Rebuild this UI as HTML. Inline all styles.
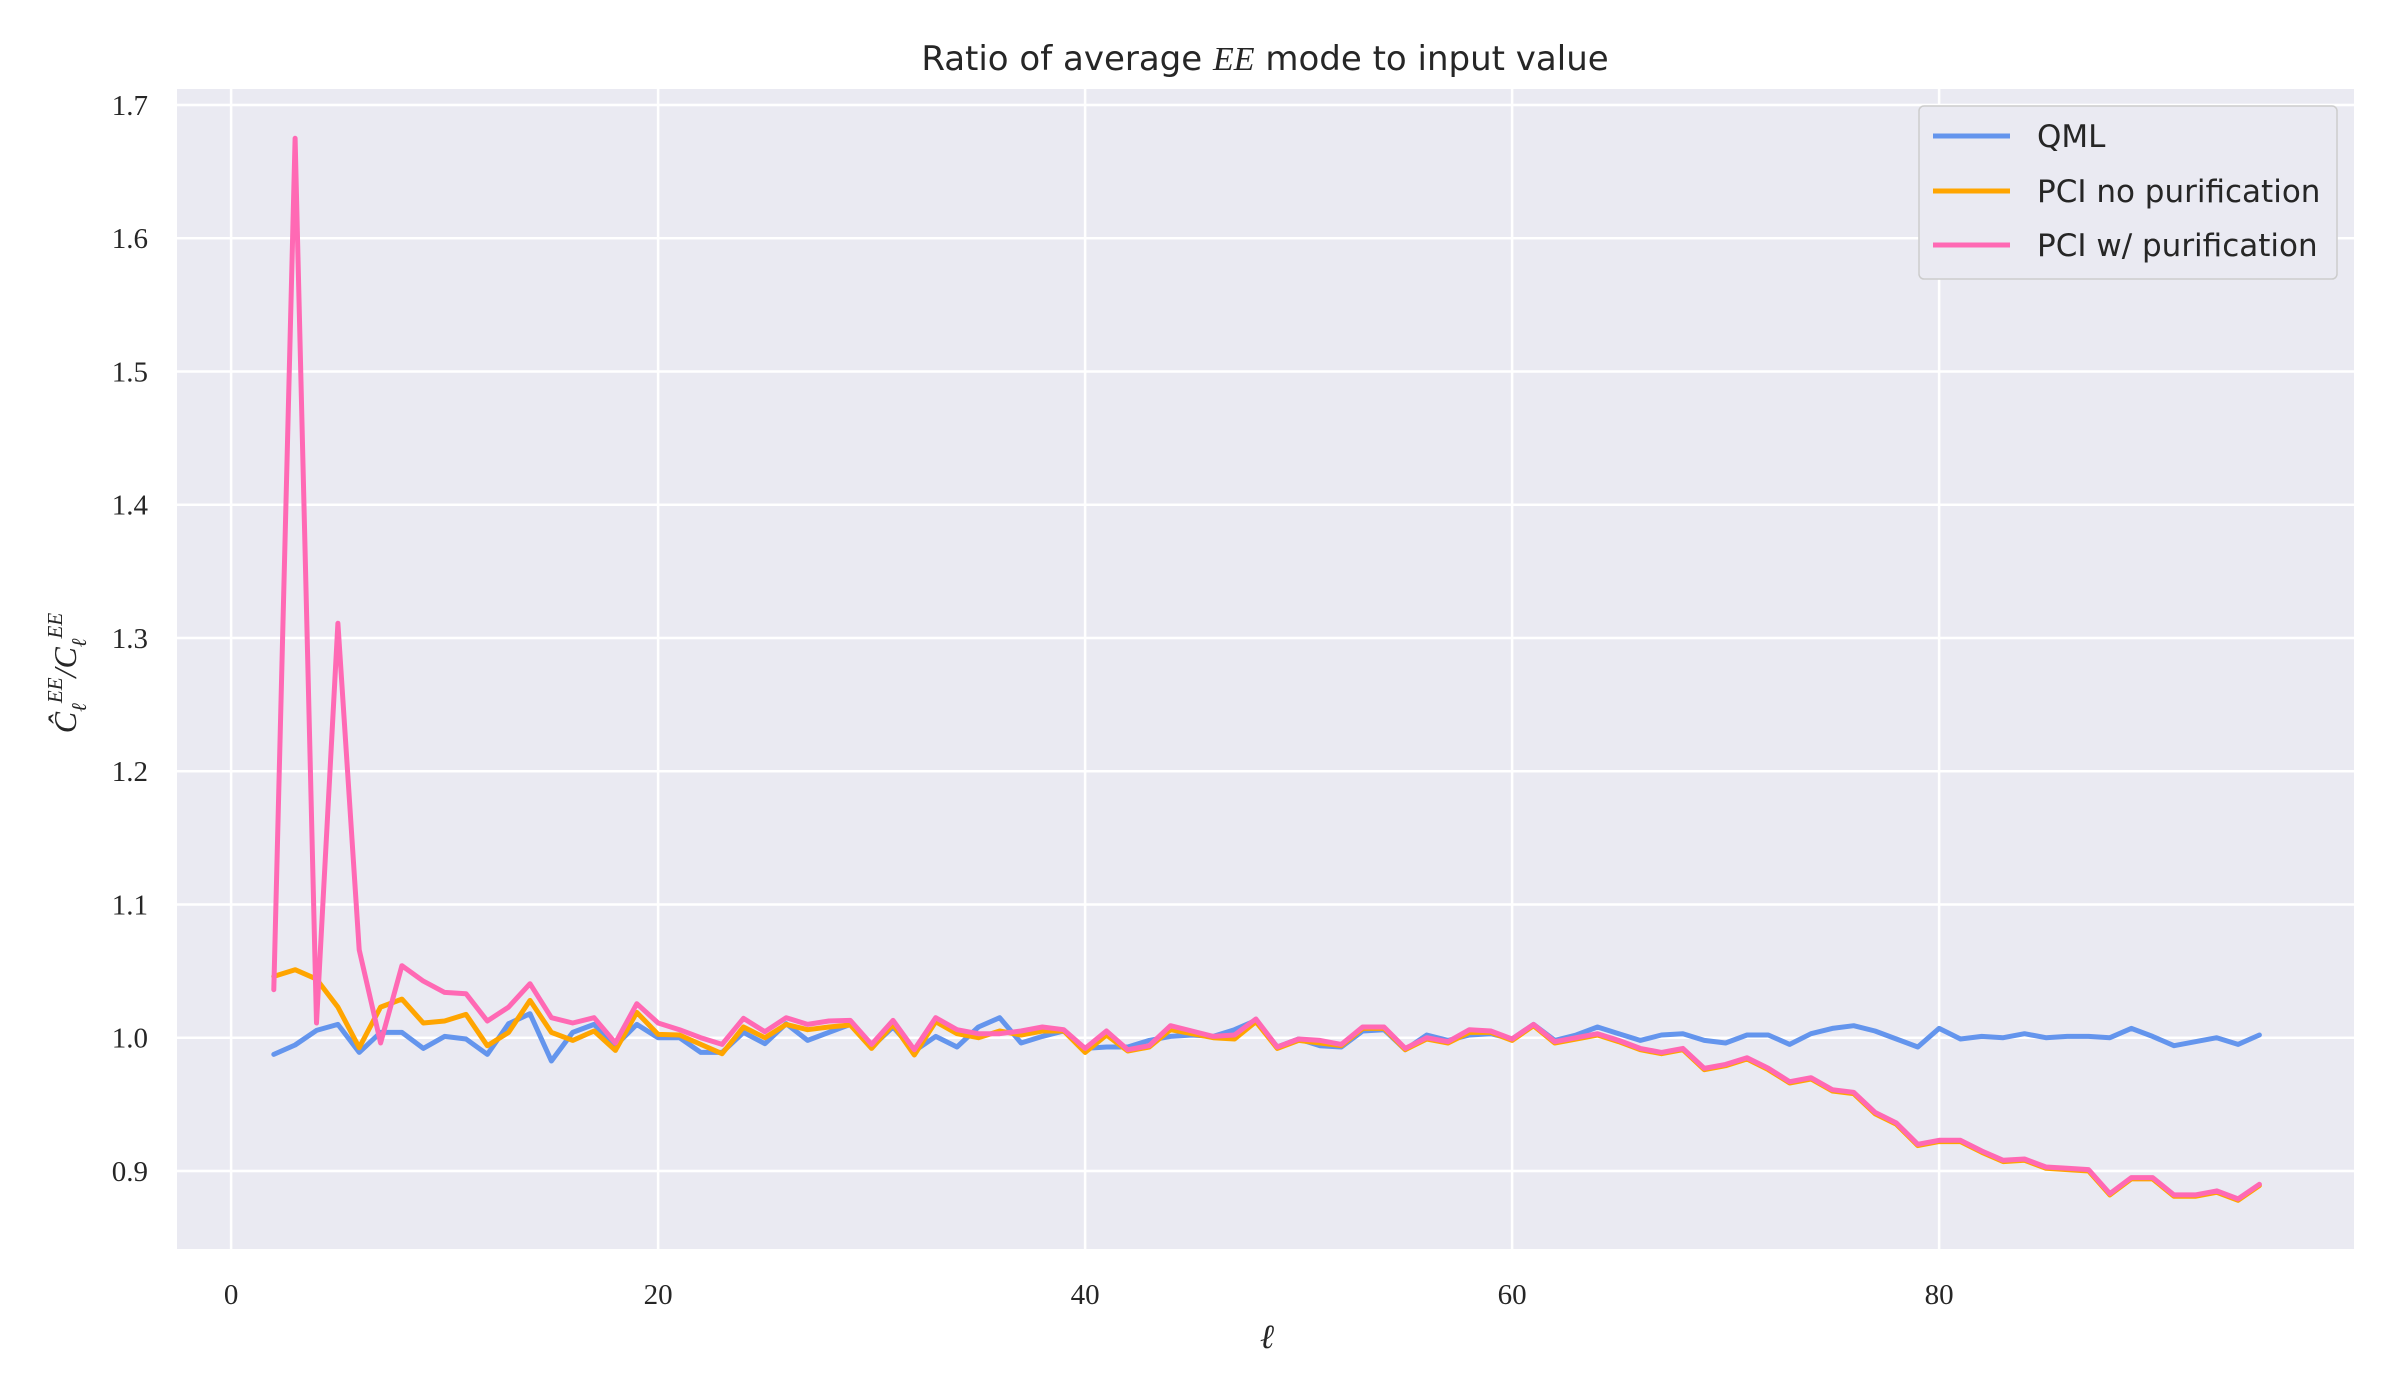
<!DOCTYPE html>
<html><head><meta charset="utf-8"><style>
html,body{margin:0;padding:0;background:#fff;}
svg{display:block;}
.tick{font-family:"Liberation Serif",serif;font-size:29px;fill:#262626;}
.sans{font-family:"DejaVu Sans","Liberation Sans",sans-serif;fill:#262626;}
</style></head><body>
<svg id="chart" width="2400" height="1400" viewBox="0 0 2400 1400" xmlns="http://www.w3.org/2000/svg">
<rect x="177" y="89" width="2177" height="1160" fill="#eaeaf2"/>
<g id="grid"></g>
<g id="series"></g>
<g id="ticks"></g>
<text class="sans" x="1265" y="70" font-size="34" text-anchor="middle">Ratio of average <tspan font-family="Liberation Serif" font-style="italic">EE</tspan> mode to input value</text>
<text x="1267" y="1348" font-family="Liberation Serif" font-style="italic" font-size="34" fill="#262626" text-anchor="middle">ℓ</text>
<text transform="translate(76,673) rotate(-90)" font-family="Liberation Serif" font-style="italic" font-size="32" fill="#262626" text-anchor="middle">Ĉ<tspan font-size="21" dy="10">ℓ</tspan><tspan font-size="21" dy="-24">EE</tspan><tspan dy="14">/C</tspan><tspan font-size="21" dy="10">ℓ</tspan><tspan font-size="21" dy="-24">EE</tspan></text>
<g>
<rect x="1919" y="106" width="418" height="173" rx="5" fill="#eaeaf2" stroke="#cccccc" stroke-width="1.5"/>
<g><line x1="1933" y1="136" x2="2010" y2="136" stroke="#6495ed" stroke-width="5"/><text class="sans" x="2037" y="147" font-size="31">QML</text></g>
<g><line x1="1933" y1="191" x2="2010" y2="191" stroke="#ffa500" stroke-width="5"/><text class="sans" x="2037" y="202" font-size="31">PCI no purification</text></g>
<g><line x1="1933" y1="245" x2="2010" y2="245" stroke="#ff69b4" stroke-width="5"/><text class="sans" x="2037" y="256" font-size="31">PCI w/ purification</text></g>
</g>
</svg>
<script>
const ells = [];
for (let l = 2; l <= 95; l++) ells.push(l);
const qml = [0.9875,0.9945,1.0055,1.01,0.989,1.004,1.004,0.992,1.001,0.999,0.9875,1.0105,1.018,0.9825,1.004,1.01,0.994,1.01,1.0,1.0,0.989,0.989,1.004,0.9955,1.0105,0.998,1.004,1.010,0.993,1.008,0.990,1.001,0.993,1.008,1.015,0.996,1.001,1.005,0.992,0.993,0.993,0.998,1.001,1.002,1.001,1.006,1.013,0.993,0.999,0.994,0.993,1.005,1.006,0.991,1.002,0.998,1.002,1.003,0.999,1.010,0.998,1.002,1.008,1.003,0.998,1.002,1.003,0.998,0.996,1.002,1.002,0.995,1.003,1.007,1.009,1.005,0.999,0.993,1.007,0.999,1.001,1.0,1.003,1.0,1.001,1.001,1.0,1.007,1.001,0.994,0.997,1.0,0.995,1.002];
const pciNoPur = [1.046,1.051,1.044,1.023,0.9925,1.023,1.029,1.011,1.0125,1.0175,0.994,1.004,1.028,1.004,0.998,1.005,0.9905,1.019,1.0025,1.002,0.995,0.988,1.008,1.0,1.01,1.006,1.008,1.0095,0.992,1.010,0.987,1.012,1.003,1.0,1.005,1.002,1.005,1.005,0.989,1.002,0.990,0.993,1.006,1.003,1.0,0.999,1.012,0.992,0.998,0.996,0.994,1.007,1.007,0.991,0.999,0.996,1.004,1.004,0.998,1.009,0.996,0.999,1.002,0.997,0.991,0.988,0.991,0.976,0.979,0.984,0.976,0.966,0.969,0.960,0.958,0.943,0.935,0.919,0.922,0.922,0.914,0.907,0.908,0.902,0.901,0.900,0.882,0.894,0.894,0.881,0.881,0.884,0.878,0.889];
const pciPur = [1.036,1.675,1.011,1.311,1.066,0.996,1.054,1.0425,1.034,1.033,1.0125,1.023,1.0405,1.015,1.011,1.015,0.996,1.0255,1.011,1.006,1.0,0.995,1.0145,1.0045,1.015,1.01,1.0125,1.013,0.995,1.013,0.991,1.015,1.006,1.003,1.003,1.005,1.008,1.006,0.992,1.005,0.991,0.994,1.009,1.005,1.001,1.002,1.014,0.993,0.999,0.998,0.995,1.008,1.008,0.992,1.0,0.997,1.006,1.005,0.999,1.010,0.997,1.0,1.003,0.998,0.992,0.989,0.992,0.977,0.980,0.985,0.977,0.967,0.970,0.961,0.959,0.944,0.936,0.920,0.923,0.923,0.915,0.908,0.909,0.903,0.902,0.901,0.883,0.895,0.895,0.882,0.882,0.885,0.879,0.890];
const xTicks = [0,20,40,60,80];
const yTicks = [0.9,1.0,1.1,1.2,1.3,1.4,1.5,1.6,1.7];
const yTickLabels = ["0.9","1.0","1.1","1.2","1.3","1.4","1.5","1.6","1.7"];

const NS = "http://www.w3.org/2000/svg";
const X0 = 177, X1 = 2354, Y0 = 89, Y1 = 1249;
function xs(l){ return 231.1 + (l - 0) * 21.35; }
function ys(v){ return 1037.7 - (v - 1.0) * 1332.5; }

const grid = document.getElementById('grid');
const ticks = document.getElementById('ticks');
xTicks.forEach(t => {
  const ln = document.createElementNS(NS,'line');
  ln.setAttribute('x1', xs(t)); ln.setAttribute('x2', xs(t));
  ln.setAttribute('y1', Y0); ln.setAttribute('y2', Y1);
  ln.setAttribute('stroke','#fff'); ln.setAttribute('stroke-width','2.5');
  
  
  grid.appendChild(ln);
  const tx = document.createElementNS(NS,'text');
  tx.setAttribute('x', xs(t)); tx.setAttribute('y', 1304);
  tx.setAttribute('text-anchor','middle'); tx.setAttribute('class','tick');
  tx.textContent = String(t);
  
  
  ticks.appendChild(tx);
});
yTicks.forEach((t,i) => {
  const ln = document.createElementNS(NS,'line');
  ln.setAttribute('x1', X0); ln.setAttribute('x2', X1);
  ln.setAttribute('y1', ys(t)); ln.setAttribute('y2', ys(t));
  ln.setAttribute('stroke','#fff'); ln.setAttribute('stroke-width','2.5');
  
  
  grid.appendChild(ln);
  const tx = document.createElementNS(NS,'text');
  tx.setAttribute('x', 148); tx.setAttribute('y', ys(t) + 10);
  tx.setAttribute('text-anchor','end'); tx.setAttribute('class','tick');
  tx.textContent = yTickLabels[i];
  
  
  ticks.appendChild(tx);
});
const series = document.getElementById('series');
function drawLine(vals, color, name){
  const pts = vals.map((v,i) => xs(ells[i]).toFixed(1) + ',' + ys(v).toFixed(1)).join(' ');
  const pl = document.createElementNS(NS,'polyline');
  pl.setAttribute('points', pts);
  pl.setAttribute('fill','none'); pl.setAttribute('stroke', color);
  pl.setAttribute('stroke-width','5'); pl.setAttribute('stroke-linejoin','round');
  pl.setAttribute('stroke-linecap','round');
  
  
  series.appendChild(pl);
}
drawLine(qml, '#6495ed', 'qml-line');
drawLine(pciNoPur, '#ffa500', 'pci-no-purification-line');
drawLine(pciPur, '#ff69b4', 'pci-purification-line');
</script>
</body></html>
